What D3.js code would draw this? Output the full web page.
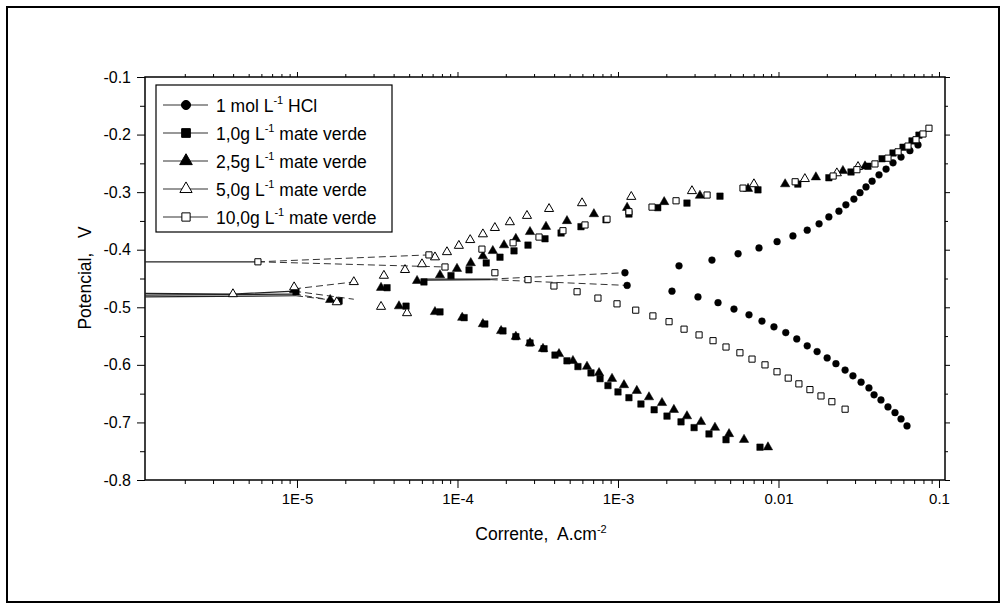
<!DOCTYPE html>
<html>
<head>
<meta charset="utf-8">
<script src="https://cdn.jsdelivr.net/npm/d3@7"></script>
<style>
    body { margin: 0; background: #fff; }
    svg text { font-family: "Liberation Sans", Arial, sans-serif; fill: #000; white-space: pre; }
    .axis path { display: none; }
    .axis line { stroke: #000; stroke-width: 1; }
</style>
</head>
<body>
<svg id="chart" width="1005" height="606"></svg>
<script>
// tick values and labels
const currentTicks = [1e-5, 1e-4, 1e-3, 1e-2, 1e-1];
const currentTickLabels = ["1E-5", "1E-4", "1E-3", "0.01", "0.1"];
const potentialTicks = [-0.1, -0.2, -0.3, -0.4, -0.5, -0.6, -0.7, -0.8];
const potentialTickLabels = ["-0.1", "-0.2", "-0.3", "-0.4", "-0.5", "-0.6", "-0.7", "-0.8"];
const seriesNames = ["1 mol L", "1,0g L", "2,5g L", "5,0g L", "10,0g L"];
const seriesSuffix = [" HCl", " mate verde", " mate verde", " mate verde", " mate verde"];

// [current A/cm2, potential V]
const hclPoints = [
    [1.105e-3, -0.440], [2.40e-3, -0.428], [3.85e-3, -0.418], [5.6e-3, -0.407], [7.56e-3, -0.397],
    [9.8e-3, -0.386], [1.23e-2, -0.376], [1.51e-2, -0.366], [1.79e-2, -0.355], [2.06e-2, -0.343],
    [2.38e-2, -0.333], [2.63e-2, -0.322], [2.95e-2, -0.312], [3.22e-2, -0.301], [3.51e-2, -0.291],
    [3.83e-2, -0.281], [4.23e-2, -0.270], [4.68e-2, -0.260], [5.17e-2, -0.249], [5.80e-2, -0.239],
    [6.59e-2, -0.228], [7.40e-2, -0.218],
    [1.14e-3, -0.462], [2.17e-3, -0.472], [3.15e-3, -0.482], [4.20e-3, -0.492], [5.28e-3, -0.503],
    [6.55e-3, -0.513], [7.89e-3, -0.524], [9.37e-3, -0.534], [1.11e-2, -0.544], [1.30e-2, -0.555],
    [1.51e-2, -0.567], [1.74e-2, -0.577], [2.01e-2, -0.588], [2.28e-2, -0.598], [2.60e-2, -0.609],
    [2.91e-2, -0.619], [3.27e-2, -0.630], [3.66e-2, -0.640], [3.94e-2, -0.652], [4.35e-2, -0.661],
    [4.81e-2, -0.673], [5.32e-2, -0.683], [5.80e-2, -0.694], [6.32e-2, -0.706]
];
const mate10Points = [
    [9.86e-6, -0.473], [1.83e-5, -0.489], [3.64e-5, -0.466], [4.78e-5, -0.498], [6.18e-5, -0.456],
    [9.11e-5, -0.445], [1.18e-4, -0.435], [1.51e-4, -0.423], [1.84e-4, -0.413], [2.25e-4, -0.402],
    [2.75e-4, -0.392], [3.51e-4, -0.381], [4.42e-4, -0.371], [5.88e-4, -0.360], [8.42e-4, -0.348],
    [1.17e-3, -0.338], [1.77e-3, -0.327], [2.69e-3, -0.319], [4.32e-3, -0.307], [7.45e-3, -0.296],
    [1.32e-2, -0.286], [2.06e-2, -0.275], [2.83e-2, -0.265], [3.61e-2, -0.255], [4.42e-2, -0.242],
    [5.17e-2, -0.232], [5.97e-2, -0.222], [6.79e-2, -0.211], [7.50e-2, -0.201],
    [7.78e-5, -0.508], [1.10e-4, -0.518], [1.48e-4, -0.529], [1.92e-4, -0.541], [2.31e-4, -0.551],
    [2.83e-4, -0.562], [3.46e-4, -0.572], [4.05e-4, -0.583], [4.81e-4, -0.593], [5.63e-4, -0.603],
    [6.79e-4, -0.614], [7.73e-4, -0.624], [8.66e-4, -0.636], [1.00e-3, -0.647], [1.17e-3, -0.657],
    [1.39e-3, -0.668], [1.68e-3, -0.678], [2.02e-3, -0.689], [2.47e-3, -0.699], [2.98e-3, -0.709],
    [3.69e-3, -0.720], [4.71e-3, -0.730], [7.67e-3, -0.743]
];
const mate25Points = [
    [9.6e-6, -0.470], [1.61e-5, -0.487], [3.34e-5, -0.466], [4.32e-5, -0.498], [5.6e-5, -0.454],
    [7.78e-5, -0.444], [9.93e-5, -0.433], [1.21e-4, -0.423], [1.44e-4, -0.411], [1.66e-4, -0.402],
    [1.95e-4, -0.392], [2.31e-4, -0.381], [2.83e-4, -0.369], [3.56e-4, -0.360], [4.81e-4, -0.350],
    [7.08e-4, -0.338], [1.14e-3, -0.327], [1.94e-3, -0.317], [3.24e-3, -0.306], [6.46e-3, -0.294],
    [1.10e-2, -0.286], [1.71e-2, -0.274], [2.52e-2, -0.263], [3.46e-2, -0.255],
    [7.24e-5, -0.508], [1.07e-4, -0.518], [1.44e-4, -0.529], [1.87e-4, -0.541], [2.31e-4, -0.551],
    [2.83e-4, -0.562], [3.41e-4, -0.572], [4.29e-4, -0.581], [5.24e-4, -0.593], [6.41e-4, -0.603],
    [7.62e-4, -0.614], [9.18e-4, -0.624], [1.09e-3, -0.635], [1.31e-3, -0.645], [1.56e-3, -0.656],
    [1.88e-3, -0.666], [2.23e-3, -0.678], [2.69e-3, -0.689], [3.29e-3, -0.699], [4.02e-3, -0.709],
    [4.92e-3, -0.720], [6.10e-3, -0.730], [8.60e-3, -0.743]
];
const mate50Points = [
    [3.99e-6, -0.477], [9.6e-6, -0.465], [1.77e-5, -0.491], [2.26e-5, -0.456], [3.34e-5, -0.499],
    [3.48e-5, -0.445], [4.71e-5, -0.435], [4.85e-5, -0.510], [6.01e-5, -0.425], [7.24e-5, -0.413],
    [8.60e-5, -0.404], [1.02e-4, -0.393], [1.20e-4, -0.383], [1.44e-4, -0.373], [1.71e-4, -0.362],
    [2.12e-4, -0.352], [2.71e-4, -0.341], [3.72e-4, -0.329], [5.97e-4, -0.319], [1.21e-3, -0.308],
    [2.89e-3, -0.298], [7.03e-3, -0.286], [1.46e-2, -0.277], [2.31e-2, -0.267], [3.13e-2, -0.256]
];
const mate100Points = [
    [5.71e-6, -0.421], [6.64e-5, -0.409], [8.36e-5, -0.430],
    [1.42e-4, -0.399], [2.22e-4, -0.388], [3.22e-4, -0.378], [4.54e-4, -0.367], [6.23e-4, -0.357],
    [8.54e-4, -0.347], [1.17e-3, -0.334], [1.63e-3, -0.326], [2.30e-3, -0.315], [3.59e-3, -0.305],
    [6.01e-3, -0.293], [1.27e-2, -0.282], [2.19e-2, -0.272], [3.08e-2, -0.261], [3.99e-2, -0.251],
    [4.81e-2, -0.241], [5.56e-2, -0.230], [6.41e-2, -0.220], [7.19e-2, -0.209], [7.95e-2, -0.199],
    [8.66e-2, -0.189],
    [1.71e-4, -0.440], [2.75e-4, -0.452], [3.99e-4, -0.463], [5.56e-4, -0.473], [7.50e-4, -0.484],
    [9.86e-4, -0.494], [1.29e-3, -0.505], [1.65e-3, -0.515], [2.08e-3, -0.525], [2.58e-3, -0.538],
    [3.20e-3, -0.548], [3.91e-3, -0.558], [4.71e-3, -0.569], [5.75e-3, -0.579], [6.84e-3, -0.590],
    [8.24e-3, -0.600], [9.79e-3, -0.612], [1.15e-2, -0.623], [1.34e-2, -0.633], [1.57e-2, -0.643],
    [1.84e-2, -0.654], [2.15e-2, -0.664], [2.60e-2, -0.677]
];

// sweep segments near the corrosion potential
const sweepSolidLines = [
    [[1.13e-6, -0.421], [5.71e-6, -0.421]],
    [[1.13e-6, -0.482], [9.86e-6, -0.480]],
    [[1.13e-6, -0.479], [9.6e-6, -0.477]],
    [[1.13e-6, -0.476], [3.99e-6, -0.477], [9.6e-6, -0.472]],
    [[5.93e-5, -0.451], [1.61e-4, -0.451]],
    [[6.18e-5, -0.453], [1.61e-4, -0.452]]
];
const sweepDashedLines = [
    [[5.71e-6, -0.421], [6.64e-5, -0.409]],
    [[5.71e-6, -0.421], [8.36e-5, -0.430]],
    [[9.86e-6, -0.480], [1.83e-5, -0.489]],
    [[9.6e-6, -0.477], [1.61e-5, -0.487]],
    [[9.6e-6, -0.468], [2.26e-5, -0.456]],
    [[9.6e-6, -0.472], [2.26e-5, -0.486]],
    [[1.61e-4, -0.451], [1.105e-3, -0.440]],
    [[1.61e-4, -0.452], [1.14e-3, -0.462]]
];

const svg = d3.select("#chart");

// outer frame
svg.append("rect").attr("x", 7).attr("y", 7).attr("width", 992).attr("height", 595)
    .attr("fill", "none").attr("stroke", "#000").attr("stroke-width", 2);

const margin = {left: 145, top: 77, right: 60, bottom: 126};
const width = 1005 - margin.left - margin.right;
const height = 606 - margin.top - margin.bottom;

const x = d3.scaleLog().domain([1.13e-6, 0.109]).range([0, width]);
const y = d3.scaleLinear().domain([-0.8, -0.1]).range([height, 0]);

const g = svg.append("g").attr("transform", `translate(${margin.left},${margin.top})`);

// minor ticks
let minorX = [];
for (let e = -6; e <= -2; e++) {
    for (let m = 2; m <= 9; m++) {
        let v = m * Math.pow(10, e);
        if (v > x.domain()[0] && v < x.domain()[1]) minorX.push(v);
    }
}
let minorY = potentialTicks.slice(0, -1).map(d => d - 0.05);

g.append("g").attr("class", "axis").attr("transform", `translate(0,${height})`)
    .call(d3.axisBottom(x).tickValues(minorX).tickSize(4).tickFormat(""));
g.append("g").attr("class", "axis").call(d3.axisTop(x).tickValues(minorX).tickSize(3).tickFormat(""));
g.append("g").attr("class", "axis").call(d3.axisTop(x).tickValues(currentTicks).tickSize(5).tickFormat(""));
let xAxis = g.append("g").attr("class", "axis").attr("transform", `translate(0,${height})`)
    .call(d3.axisBottom(x).tickValues(currentTicks).tickSize(8).tickPadding(5)
        .tickFormat((d, i) => currentTickLabels[i]));
xAxis.selectAll("text").style("font-size", "15px");

g.append("g").attr("class", "axis").call(d3.axisLeft(y).tickValues(minorY).tickSize(5).tickFormat(""));
let yAxis = g.append("g").attr("class", "axis")
    .call(d3.axisLeft(y).tickValues(potentialTicks).tickSize(8).tickPadding(6)
        .tickFormat((d, i) => potentialTickLabels[i]));
yAxis.selectAll("text").style("font-size", "16px");
g.append("g").attr("class", "axis").attr("transform", `translate(${width},0)`)
    .call(d3.axisRight(y).tickValues(minorY).tickSize(3).tickFormat(""));
g.append("g").attr("class", "axis").attr("transform", `translate(${width},0)`)
    .call(d3.axisRight(y).tickValues(potentialTicks).tickSize(5).tickFormat(""));

g.append("rect").attr("width", width).attr("height", height)
    .attr("fill", "none").attr("stroke", "#000").attr("stroke-width", 1.5);

// axis titles
let xt = svg.append("text").attr("x", 541).attr("y", 540).attr("text-anchor", "middle")
    .style("font-size", "17.5px");
xt.append("tspan").text("Corrente,  A.cm");
xt.append("tspan").attr("dy", -7).style("font-size", "11px").text("-2");

svg.append("text").attr("transform", "translate(91,278) rotate(-90)")
    .attr("text-anchor", "middle").style("font-size", "17.5px")
    .text("Potencial,   V");

// sweep lines
let line = d3.line().x(d => x(d[0])).y(d => y(d[1]));
g.selectAll(".sweep-solid").data(sweepSolidLines).join("path")
    .attr("class", "sweep-solid").attr("d", line)
    .attr("fill", "none").attr("stroke", "#222").attr("stroke-width", 1.2);
g.selectAll(".sweep-dash").data(sweepDashedLines).join("path")
    .attr("class", "sweep-dash").attr("d", line)
    .attr("fill", "none").attr("stroke", "#333").attr("stroke-width", 1)
    .attr("stroke-dasharray", "7,4");

// markers
const symbolStyles = [
    {type: d3.symbolCircle, size: 36, fill: "#000"},
    {type: d3.symbolSquare, size: 42, fill: "#000"},
    {type: d3.symbolTriangle, size: 38, fill: "#000"},
    {type: d3.symbolTriangle, size: 36, fill: "#fff"},
    {type: d3.symbolSquare, size: 38, fill: "#fff"}
];
const allPoints = [hclPoints, mate10Points, mate25Points, mate50Points, mate100Points];

allPoints.forEach(function(points, i) {
    let s = symbolStyles[i];
    g.append("g").selectAll("path").data(points).join("path")
        .attr("transform", d => `translate(${x(d[0])},${y(d[1])})`)
        .attr("d", d3.symbol().type(s.type).size(s.size))
        .attr("fill", s.fill)
        .attr("stroke", "#000")
        .attr("stroke-width", s.fill === "#fff" ? 1 : 0.5);
});

// legend
let legend = svg.append("g").attr("transform", "translate(156,85)");
legend.append("rect").attr("width", 236).attr("height", 147)
    .attr("fill", "#fff").attr("stroke", "#000").attr("stroke-width", 1.2);
seriesNames.forEach(function(name, i) {
    let s = symbolStyles[i];
    let row = legend.append("g").attr("transform", `translate(0,${20 + i * 28})`);
    row.append("line").attr("x1", 7).attr("x2", 52).attr("stroke", "#333").attr("stroke-width", 1.2);
    row.append("path").attr("transform", "translate(30,0)")
        .attr("d", d3.symbol().type(s.type).size(s.size * 1.8))
        .attr("fill", s.fill).attr("stroke", "#000").attr("stroke-width", 1);
    let t = row.append("text").attr("x", 60).attr("y", 7).style("font-size", "17.5px");
    t.append("tspan").text(name);
    t.append("tspan").attr("dy", -8).style("font-size", "11px").text("-1");
    t.append("tspan").attr("dy", 8).text(seriesSuffix[i]);
});
</script>
</body>
</html>
